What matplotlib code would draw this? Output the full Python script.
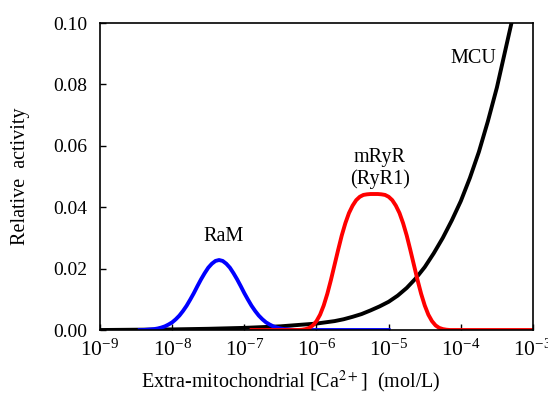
import numpy as np
import matplotlib
matplotlib.use("Agg")
import matplotlib.pyplot as plt

plt.rcParams['font.family'] = ['Liberation Serif', 'DejaVu Serif']
plt.rcParams['mathtext.fontset'] = 'stix'

# RaM (blue) - log10 concentration and relative activity
ram_logx = [-8.45, -8.40, -8.35, -8.30, -8.25, -8.20, -8.15, -8.10, -8.05, -8.00,
            -7.95, -7.90, -7.85, -7.80, -7.75, -7.70, -7.65, -7.60, -7.55, -7.50,
            -7.45, -7.40, -7.35, -7.30, -7.25, -7.20, -7.15, -7.10, -7.05, -7.00,
            -6.95, -6.90, -6.85, -6.80, -6.75, -6.70, -6.65, -6.60, -6.55, -6.50,
            -6.45, -6.40, -6.35, -6.30, -6.25, -5.00]
ram_y = [0.0, 0.0, 0.0001, 0.0002, 0.0003, 0.0005, 0.0008, 0.0012, 0.0018, 0.0025,
         0.0035, 0.0047, 0.0062, 0.0079, 0.0099, 0.0120, 0.0143, 0.0165, 0.0185, 0.0203,
         0.0216, 0.0225, 0.0228, 0.0225, 0.0216, 0.0203, 0.0185, 0.0165, 0.0143, 0.0120,
         0.0099, 0.0079, 0.0062, 0.0047, 0.0035, 0.0025, 0.0018, 0.0012, 0.0008, 0.0005,
         0.0003, 0.0002, 0.0001, 0.0, 0.0, 0.0]

# mRyR (RyR1) (red)
ryr_logx = [-6.90, -6.30, -6.25, -6.20, -6.15, -6.10, -6.05, -6.00, -5.95, -5.90,
            -5.85, -5.80, -5.75, -5.70, -5.65, -5.60, -5.55, -5.50, -5.45, -5.40,
            -5.35, -5.30, -5.25, -5.20, -5.15, -5.10, -5.05, -5.00, -4.95, -4.90,
            -4.85, -4.80, -4.75, -4.70, -4.65, -4.60, -4.55, -4.50, -4.45, -4.40,
            -4.35, -4.30, -4.25, -4.20, -4.15, -4.10, -3.00]
ryr_y = [0.0, 0.0, 0.0, 0.0001, 0.0003, 0.0007, 0.0015, 0.0029, 0.0050, 0.0080,
         0.0118, 0.0163, 0.0212, 0.0261, 0.0308, 0.0348, 0.0381, 0.0405, 0.0423, 0.0434,
         0.0440, 0.0442, 0.0443, 0.0443, 0.0443, 0.0442, 0.0440, 0.0434, 0.0423, 0.0405,
         0.0381, 0.0348, 0.0308, 0.0261, 0.0212, 0.0163, 0.0118, 0.0080, 0.0050, 0.0029,
         0.0015, 0.0007, 0.0003, 0.0001, 0.0, 0.0, 0.0]

# MCU (black)
mcu_logx = [-9.0, -8.5, -8.0, -7.5, -7.0, -6.5, -6.0, -5.75, -5.625, -5.5, -5.375,
            -5.25, -5.125, -5.0, -4.875, -4.75, -4.625, -4.5, -4.375, -4.25, -4.125,
            -4.0, -3.875, -3.75, -3.625, -3.5, -3.375, -3.25]
mcu_y = [0.0, 0.0001, 0.0002, 0.0004, 0.0007, 0.0012, 0.0021, 0.0029, 0.0035, 0.0043,
         0.0052, 0.0064, 0.0077, 0.0092, 0.0112, 0.0137, 0.0168, 0.0205, 0.0250, 0.0300,
         0.0357, 0.0420, 0.0495, 0.0580, 0.0680, 0.0790, 0.0920, 0.1050]

fig = plt.figure(figsize=(5.48, 3.94), dpi=100)
ax = fig.add_axes([0.1825, 0.1624, 0.7901, 0.7792])

ax.plot(10.0 ** np.array(mcu_logx), mcu_y, color='black', lw=2.8)
ax.plot(10.0 ** np.array(ram_logx), ram_y, color='#0000ff', lw=2.8)
ax.plot(10.0 ** np.array(ryr_logx), ryr_y, color='#ff0000', lw=2.8)

ax.set_xscale('log')
ax.set_xlim(1e-9, 1e-3)
ax.set_ylim(0, 0.10)
ax.set_xticks([1e-9, 1e-8, 1e-7, 1e-6, 1e-5, 1e-4, 1e-3])
ax.xaxis.set_minor_locator(matplotlib.ticker.NullLocator())
ax.set_yticks([0, 0.02, 0.04, 0.06, 0.08, 0.10])
ax.set_yticklabels(['0.00', '0.02', '0.04', '0.06', '0.08', '0.10'])
ax.tick_params(direction='in', length=4, width=1)
ax.tick_params(axis='y', labelsize=14, pad=9)
ax.tick_params(axis='x', labelsize=15.5, pad=7)

for s in ax.spines.values():
    s.set_linewidth(1.2)

ax.text(5.1e-8, 0.0303, 'RaM', fontsize=14.5, ha='center', va='center')
ax.text(7.5e-6, 0.0527, 'mRyR\n(RyR1)', fontsize=14.5, ha='center', va='center',
        linespacing=1.15)
ax.text(1.5e-4, 0.0885, 'MCU', fontsize=14.5, ha='center', va='center')

ax.set_xlabel('Extra-mitochondrial [Ca$^{2+}$]  (mol/L)', fontsize=14.5, va='center')
ax.xaxis.set_label_coords(0.441, -0.169)
ax.set_ylabel('Relative  activity', fontsize=14.5, labelpad=17)

fig.savefig('out.png', dpi=100)
